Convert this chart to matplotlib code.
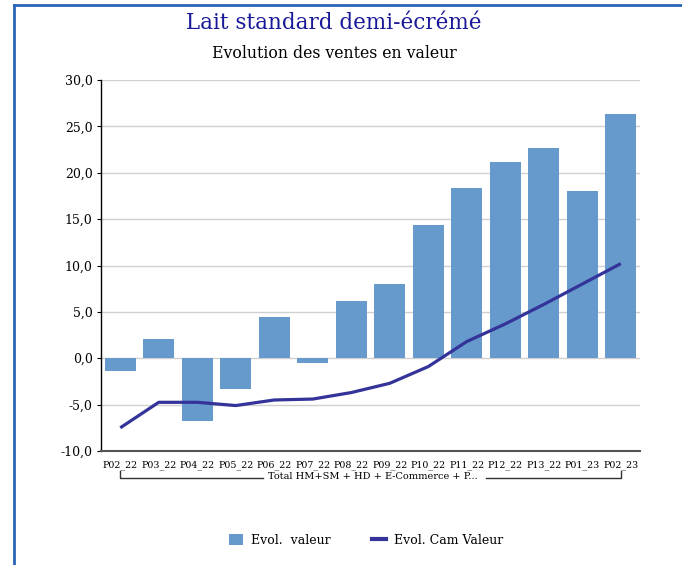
import matplotlib
matplotlib.use("Agg")
import matplotlib.pyplot as plt
from matplotlib.lines import Line2D
from matplotlib.patches import Patch

# data
periods = ["P02_22", "P03_22", "P04_22", "P05_22", "P06_22", "P07_22", "P08_22",
           "P09_22", "P10_22", "P11_22", "P12_22", "P13_22", "P01_23", "P02_23"]
evol_valeur = [-1.4, 2.1, -6.8, -3.3, 4.4, -0.5, 6.2, 8.0, 14.4, 18.4, 21.2, 22.7, 18.0, 26.3]
evol_cam_valeur = [-7.5, -4.75, -4.75, -5.1, -4.5, -4.4, -3.7, -2.7, -0.9, 1.8, 3.7, 5.8, 8.0, 10.2]
yticks = [-10, -5, 0, 5, 10, 15, 20, 25, 30]
group_label = "Total HM+SM + HD + E-Commerce + P..."

plt.rcParams["font.family"] = ["DejaVu Serif"]

fig = plt.figure(figsize=(6.82, 5.65), dpi=100)
ax = fig.add_axes([101 / 682, 1 - 451 / 565, (640 - 101) / 682, (451 - 80) / 565])

x = list(range(len(periods)))
ax.bar(x, evol_valeur, width=0.8, color="#6699cc", zorder=2)
ax.plot(x, evol_cam_valeur, color="#333399", lw=2.3, zorder=3, solid_capstyle="butt")

ax.set_xlim(-0.5, len(periods) - 0.5)
ax.set_ylim(-10, 30)
ax.set_yticks(yticks)
ax.set_yticklabels([f"{v:.1f}".replace(".", ",") for v in yticks], fontsize=9)
ax.set_xticks(x)
ax.set_xticklabels(periods, fontsize=6.8)
ax.tick_params(axis="y", length=3, width=0.8, pad=3)
ax.tick_params(axis="x", length=0, pad=7)
ax.grid(axis="y", color="#d0d0d0", lw=1, zorder=0)

for s in ["top", "right"]:
    ax.spines[s].set_visible(False)
ax.spines["left"].set_color("black")
ax.spines["left"].set_linewidth(1)
ax.spines["bottom"].set_color("#555555")
ax.spines["bottom"].set_linewidth(1.5)

# group bracket under the category labels
ax.text(0.505, -0.068, group_label, transform=ax.transAxes, ha="center", va="center", fontsize=7)
tr = ax.get_xaxis_transform()
ax.plot([0, 0, 3.7], [-0.055, -0.072, -0.072], transform=tr, color="#333333", lw=1, clip_on=False)
ax.plot([9.5, 13, 13], [-0.072, -0.072, -0.055], transform=tr, color="#333333", lw=1, clip_on=False)

fig.text(334 / 682, 1 - 23 / 565, "Lait standard demi-écrémé", ha="center", va="center",
         fontsize=15.5, color="#1a1a99")
fig.text(334 / 682, 1 - 53 / 565, "Evolution des ventes en valeur", ha="center", va="center",
         fontsize=11.3, color="black")

handles = [Patch(facecolor="#6699cc", label="Evol.  valeur"),
           Line2D([0], [0], color="#333399", lw=3, label="Evol. Cam Valeur")]
fig.legend(handles=handles, loc="center", bbox_to_anchor=(366 / 682, 1 - 540 / 565), ncol=2,
           frameon=False, fontsize=9, handlelength=1.15, handleheight=1.0, handletextpad=0.6,
           columnspacing=3.3)

# blue frame on top and left edge
fig.add_artist(Line2D([14 / 682, 1], [1 - 5 / 565, 1 - 5 / 565], transform=fig.transFigure,
                      color="#2a66b8", lw=2))
fig.add_artist(Line2D([14 / 682, 14 / 682], [0, 1 - 5 / 565], transform=fig.transFigure,
                      color="#2a66b8", lw=2))

fig.savefig("out.png", dpi=100)
